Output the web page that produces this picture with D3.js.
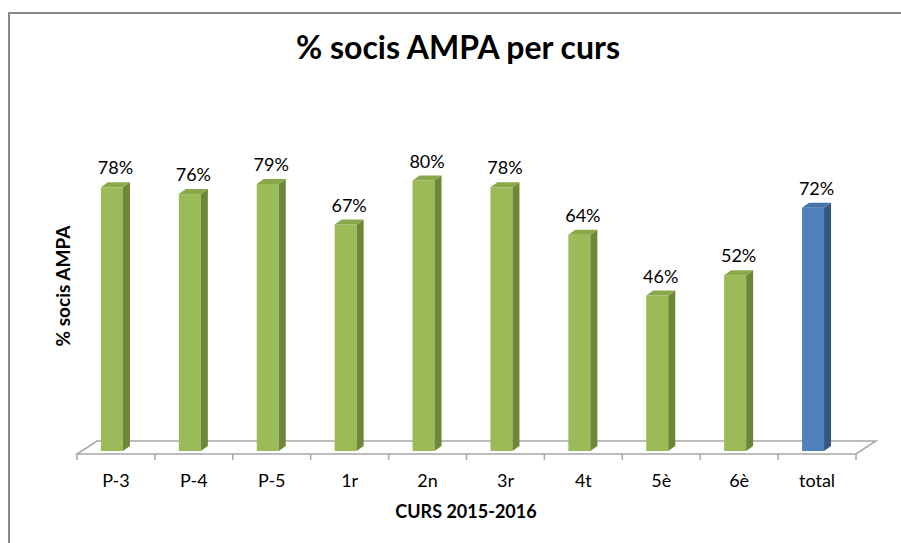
<!DOCTYPE html>
<html>
<head>
<meta charset="utf-8">
<script src="https://cdn.jsdelivr.net/npm/d3@7"></script>
<style>
  body { margin: 0; background: #fff; }
  text { font-family: Lato, "Open Sans", sans-serif; fill: #000; }
</style>
</head>
<body>
<div class="chart-container"></div>
<script>
// data
const categories = ['P-3', 'P-4', 'P-5', '1r', '2n', '3r', '4t', '5è', '6è', 'total'];
const values = [78, 76, 79, 67, 80, 78, 64, 46, 52, 72];
const labels = ['78%', '76%', '79%', '67%', '80%', '78%', '64%', '46%', '52%', '72%'];

const svg_width = 901;
const svg_height = 543;

const svg = d3.select('.chart-container').append('svg')
    .attr('width', svg_width).attr('height', svg_height);

// chart border
svg.append('path')
    .attr('d', `M9,${svg_height} L9,13 L${svg_width},13`)
    .attr('fill', 'none').attr('stroke', '#888').attr('stroke-width', 2);

// scales
const xScale = d3.scaleBand().domain(categories).range([77, 856]).padding(0);
const yScale = d3.scaleLinear().domain([0, 100]).range([451, 113]);

// floor (3d)
const floorFront = 454, floorDx = 20, floorDy = -13;
const x0 = xScale.range()[0], x1 = xScale.range()[1];
svg.append('path')
    .attr('d', `M${x0},${floorFront} L${x1},${floorFront} L${x1 + floorDx},${floorFront + floorDy} L${x0 + floorDx},${floorFront + floorDy} Z`)
    .attr('fill', '#fff').attr('stroke', '#a6a6a6').attr('stroke-width', 1.5);

// ticks
const tickPos = categories.map(c => xScale(c)).concat([x1]);
svg.selectAll('.tick')
    .data(tickPos)
    .enter()
    .append('line')
    .attr('x1', d => d).attr('x2', d => d)
    .attr('y1', floorFront).attr('y2', floorFront + 6)
    .attr('stroke', '#a6a6a6').attr('stroke-width', 1.5);

// bars
const barW = 22, depthX = 7, depthY = -5;
const colors = {
    green: { front: '#9bbb59', side: '#6c8738', top: '#88a84a' },
    blue: { front: '#4f81bd', side: '#35577f', top: '#4574ac' }
};
const bars = svg.selectAll('.bar')
    .data(values)
    .enter()
    .append('g')
    .attr('class', 'bar');

bars.each(function (d, i) {
    const g = d3.select(this);
    const c = xScale(categories[i]) + xScale.bandwidth() / 2;
    const bx = c - 15;
    const top = yScale(d);
    const bottom = yScale(0);
    const col = categories[i] === 'total' ? colors.blue : colors.green;
    g.append('rect')
        .attr('x', bx).attr('y', top)
        .attr('width', barW).attr('height', bottom - top)
        .attr('fill', col.front);
    g.append('path')
        .attr('d', `M${bx + barW},${top} L${bx + barW + depthX},${top + depthY} L${bx + barW + depthX},${bottom + depthY} L${bx + barW},${bottom} Z`)
        .attr('fill', col.side);
    g.append('path')
        .attr('d', `M${bx},${top} L${bx + depthX},${top + depthY} L${bx + barW + depthX},${top + depthY} L${bx + barW},${top} Z`)
        .attr('fill', col.top);
    g.append('text')
        .attr('x', c - 0.5).attr('y', top + depthY - 8)
        .attr('text-anchor', 'middle')
        .style('font-size', '18px')
        .text(labels[i]);
});

// category labels
svg.selectAll('.cat')
    .data(categories)
    .enter()
    .append('text')
    .attr('class', 'cat')
    .attr('x', d => xScale(d) + xScale.bandwidth() / 2)
    .attr('y', 487)
    .attr('text-anchor', 'middle')
    .style('font-size', '18px')
    .text(d => d);

// titles
svg.append('text')
    .attr('x', 458).attr('y', 59)
    .attr('text-anchor', 'middle')
    .style('font-size', '32px').style('font-weight', 'bold')
    .text('% socis AMPA per curs');

svg.append('text')
    .attr('x', 466).attr('y', 518)
    .attr('text-anchor', 'middle')
    .style('font-size', '18px').style('font-weight', 'bold')
    .text('CURS 2015-2016');

svg.append('text')
    .attr('transform', 'translate(70,286) rotate(-90)')
    .attr('text-anchor', 'middle')
    .style('font-size', '19px').style('font-weight', 'bold')
    .text('% socis AMPA');
</script>
</body>
</html>
